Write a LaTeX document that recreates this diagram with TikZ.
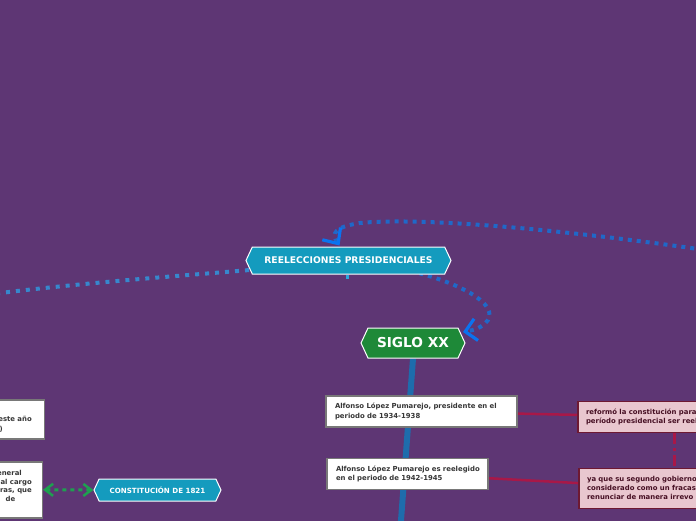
\documentclass[tikz,border=0pt]{standalone}
\usepackage{fontspec}
\setmainfont{DejaVu Sans}
\usetikzlibrary{arrows.meta,shapes.symbols}
\definecolor{bgp}{RGB}{94,54,116}
\definecolor{tealn}{RGB}{20,155,190}
\definecolor{greenn}{RGB}{30,137,56}
\definecolor{trunkb}{RGB}{30,108,172}
\definecolor{boxgray}{RGB}{120,120,120}
\definecolor{txtgray}{RGB}{55,55,55}
\definecolor{pinkf}{RGB}{233,199,207}
\definecolor{pinkd}{RGB}{110,25,50}
\definecolor{pinkt}{RGB}{70,15,35}
\definecolor{crim}{RGB}{168,24,72}
\definecolor{dotb}{RGB}{32,104,200}
\definecolor{dotl}{RGB}{55,135,205}
\definecolor{arrb}{RGB}{10,115,240}
\definecolor{ltick}{RGB}{45,165,220}
\definecolor{greend}{RGB}{30,160,80}
\pgfdeclarelayer{back}
\pgfsetlayers{back,main}
\tikzset{
  hexa/.style={shape=signal, signal to=west and east, signal pointer angle=130,
    draw=white, line width=1pt, inner sep=0pt, text=white, fill=tealn},
  wbox/.style={draw=boxgray, line width=1.5pt, fill=white, inner xsep=9pt, inner ysep=0pt,
    align=left, font=\fontsize{6.9}{9.4}\selectfont\bfseries, text=txtgray, minimum height=31pt},
  pbox/.style={draw=pinkd, line width=1.2pt, fill=pinkf, inner xsep=8pt, inner ysep=0pt,
    align=left, font=\fontsize{6.9}{8.9}\selectfont\bfseries, text=pinkt},
  ftxt/.style={inner sep=0pt, font=\fontsize{6.9}{8.5}\selectfont\bfseries, text=txtgray},
  bdot/.style={draw=dotb, line width=4pt, dash pattern=on 4pt off 5pt},
  ldot/.style={draw=dotl, line width=4pt, dash pattern=on 4pt off 6pt},
  gdot/.style={draw=greend, line width=3pt, dash pattern=on 4pt off 4pt},
  redl/.style={draw=crim, line width=2.5pt},
  trunkl/.style={draw=trunkb, line width=6pt},
}
\begin{document}
\begin{tikzpicture}[x=1pt,y=-1pt]
\useasboundingbox (0,0) rectangle (696,520);
\begin{pgfonlayer}{back}
\fill[bgp] (-20,-20) rectangle (716,540);
\end{pgfonlayer}
% hexagon nodes
\node[hexa, minimum width=205pt, minimum height=27pt, font=\fontsize{9.2}{10}\selectfont\bfseries] (re) at (348.5,260.5) {REELECCIONES PRESIDENCIALES};
\node[hexa, fill=greenn, minimum width=104pt, minimum height=30pt, font=\fontsize{13.7}{14}\selectfont\bfseries] (sg) at (413,343) {SIGLO XX};
\node[hexa, minimum width=127pt, minimum height=22pt, font=\fontsize{7.1}{8}\selectfont\bfseries] (con) at (157.5,490) {CONSTITUCIÓN DE 1821};
% white boxes
\node[wbox, text width=173pt] (ba) at (421.5,411.5) {\mbox{Alfonso López Pumarejo, presidente en el}\\\mbox{periodo de 1934-1938}};
\node[wbox, text width=143pt] (bb) at (407.5,473.8) {\mbox{Alfonso López Pumarejo es reelegido}\\\mbox{en el periodo de 1942-1945}};
% left boxes (cut off)
\node[wbox, anchor=north east, minimum width=120pt, minimum height=39pt] (lb1) at (45,399) {};
\node[ftxt, anchor=base east] (lb1a) at (32,421) {este año};
\node[ftxt, anchor=base east] (lb1b) at (3,431) {)};
\node[wbox, anchor=north east, minimum width=120pt, minimum height=56pt] (lb2) at (43,461) {};
\node[ftxt, anchor=base east] (lb2a) at (22,475.5) {eneral};
\node[ftxt, anchor=base east] (lb2b) at (32,484) {al cargo};
\node[ftxt, anchor=base east] (lb2c) at (32,492.5) {ras, que};
\node[ftxt, anchor=base east] (lb2d) at (15.5,501) {de};
% pink boxes
\node[pbox, text width=176pt, minimum height=31pt] (pc) at (674,417) {\mbox{reformó la constitución para}\\\mbox{período presidencial ser reel}};
\node[pbox, text width=174pt, minimum height=40pt] (pd) at (674,488.3) {\mbox{ya que su segundo gobierno}\\\mbox{considerado como un fracas}\\\mbox{renunciar de manera irrevo}};
% connectors behind
\coordinate (topstart) at (712,251);
\coordinate (leftend) at (-12,294.5);
\coordinate (trunkend) at (400.3,530);
\coordinate (tick) at (347,279);
\begin{pgfonlayer}{back}
\draw[ldot] (re.center) .. controls (250,272) and (120,278) .. (leftend);
\draw[bdot, -{Straight Barb[length=12pt,width=22pt,line width=3.2pt,color=arrb]}]
  (topstart) .. controls (560,229) and (420,217) .. (360,223)
  .. controls (335,227) and (331,233) .. ([shift={(-9,-15)}]re.center);
\draw[bdot, -{Straight Barb[length=11pt,width=22pt,line width=3.2pt,color=arrb]}]
  (re.center) .. controls (440,270) and (500,300) .. (488,320)
  .. controls (482,328) and (474,330) .. ([shift={(50,-11)}]sg.center);
\draw[ltick, line width=3pt] ([xshift=-1.5pt]re.south) -- (tick);
\draw[trunkl] (sg.south) -- (trunkend);
\draw[redl] (ba.center) -- (pc.center);
\draw[redl] (bb.center) -- (pd.center);
\draw[crim, line width=3pt, dash pattern=on 11pt off 4pt on 3pt off 4pt] (pc.south) -- (pd.north);
\draw[gdot, {Straight Barb[length=8pt,width=12pt,line width=2.5pt]}-{Straight Barb[length=8pt,width=12pt,line width=2.5pt]}] (lb2.east) -- (con.west);
\end{pgfonlayer}
\end{tikzpicture}
\end{document}
